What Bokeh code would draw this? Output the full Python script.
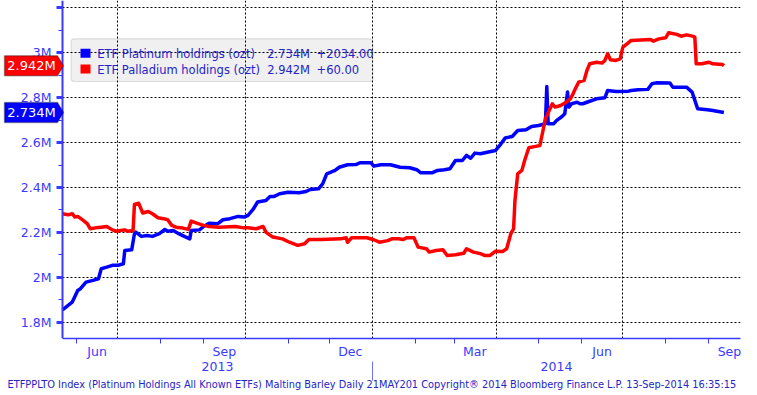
import pandas as pd
from bokeh.plotting import figure
from bokeh.models import (FixedTicker, LinearAxis, Range1d, Label, BoxAnnotation,
                          PolyAnnotation, Title, ColumnDataSource)
from bokeh.embed import file_html
from bokeh.resources import INLINE

# ---------------- data (values in millions of ozt) ----------------
plat_dates = [
    "2013-05-22", "2013-05-29", "2013-06-02", "2013-06-04", "2013-06-08", "2013-06-13", "2013-06-17", "2013-06-19", "2013-06-23", "2013-06-27",
    "2013-07-01", "2013-07-05", "2013-07-06", "2013-07-11", "2013-07-13", "2013-07-14", "2013-07-18", "2013-07-22", "2013-07-26", "2013-07-31",
    "2013-08-04", "2013-08-06", "2013-08-10", "2013-08-14", "2013-08-18", "2013-08-22", "2013-08-23", "2013-08-29", "2013-09-01", "2013-09-05",
    "2013-09-11", "2013-09-15", "2013-09-20", "2013-09-26", "2013-09-30", "2013-10-03", "2013-10-07", "2013-10-10", "2013-10-16", "2013-10-19",
    "2013-10-22", "2013-10-26", "2013-11-01", "2013-11-09", "2013-11-14", "2013-11-17", "2013-11-23", "2013-11-26", "2013-11-29", "2013-12-02",
    "2013-12-05", "2013-12-08", "2013-12-14", "2013-12-20", "2013-12-23", "2013-12-31", "2014-01-02", "2014-01-07", "2014-01-14", "2014-01-21",
    "2014-01-28", "2014-02-02", "2014-02-05", "2014-02-13", "2014-02-17", "2014-02-22", "2014-02-26", "2014-03-02", "2014-03-07", "2014-03-10",
    "2014-03-13", "2014-03-16", "2014-03-20", "2014-03-25", "2014-03-31", "2014-04-03", "2014-04-07", "2014-04-12", "2014-04-16", "2014-04-22",
    "2014-04-26", "2014-05-01", "2014-05-06", "2014-05-07", "2014-05-08", "2014-05-12", "2014-05-14", "2014-05-18", "2014-05-20", "2014-05-22",
    "2014-05-23", "2014-05-25", "2014-05-29", "2014-05-31", "2014-06-02", "2014-06-07", "2014-06-12", "2014-06-18", "2014-06-20", "2014-06-26",
    "2014-07-05", "2014-07-07", "2014-07-12", "2014-07-19", "2014-07-22", "2014-07-25", "2014-08-04", "2014-08-06", "2014-08-16", "2014-08-20",
    "2014-08-24", "2014-08-31", "2014-09-04", "2014-09-12",
]
plat_vals = [
    1.855, 1.889, 1.941, 1.949, 1.978, 1.986, 1.993, 2.038, 2.045, 2.053,
    2.053, 2.060, 2.119, 2.122, 2.194, 2.201, 2.182, 2.186, 2.182, 2.194,
    2.213, 2.205, 2.208, 2.194, 2.182, 2.171, 2.208, 2.211, 2.226, 2.241,
    2.238, 2.256, 2.261, 2.271, 2.268, 2.275, 2.305, 2.335, 2.342, 2.360,
    2.360, 2.372, 2.379, 2.376, 2.382, 2.391, 2.394, 2.416, 2.461, 2.468,
    2.476, 2.490, 2.501, 2.502, 2.510, 2.510, 2.495, 2.501, 2.501, 2.490,
    2.488, 2.479, 2.465, 2.465, 2.476, 2.479, 2.483, 2.520, 2.520, 2.543,
    2.530, 2.553, 2.550, 2.557, 2.565, 2.587, 2.621, 2.627, 2.654, 2.657,
    2.672, 2.676, 2.684, 2.850, 2.684, 2.684, 2.698, 2.716, 2.728, 2.825,
    2.758, 2.773, 2.780, 2.773, 2.773, 2.784, 2.795, 2.800, 2.832, 2.828,
    2.829, 2.832, 2.835, 2.837, 2.862, 2.866, 2.865, 2.847, 2.847, 2.825,
    2.751, 2.746, 2.743, 2.734,
]
pall_dates = [
    "2013-05-22", "2013-05-26", "2013-05-29", "2013-05-31", "2013-06-02", "2013-06-06", "2013-06-09", "2013-06-11", "2013-06-15", "2013-06-19",
    "2013-06-23", "2013-06-27", "2013-06-30", "2013-07-03", "2013-07-06", "2013-07-08", "2013-07-12", "2013-07-13", "2013-07-16", "2013-07-19",
    "2013-07-23", "2013-07-26", "2013-07-30", "2013-08-03", "2013-08-06", "2013-08-09", "2013-08-12", "2013-08-17", "2013-08-21", "2013-08-23",
    "2013-08-27", "2013-09-01", "2013-09-05", "2013-09-12", "2013-09-24", "2013-09-30", "2013-10-03", "2013-10-09", "2013-10-14", "2013-10-16",
    "2013-10-21", "2013-10-28", "2013-11-02", "2013-11-08", "2013-11-13", "2013-11-16", "2013-11-25", "2013-12-09", "2013-12-13", "2013-12-14",
    "2013-12-17", "2013-12-28", "2014-01-02", "2014-01-06", "2014-01-12", "2014-01-15", "2014-01-20", "2014-01-23", "2014-01-26", "2014-01-31",
    "2014-02-03", "2014-02-09", "2014-02-11", "2014-02-16", "2014-02-21", "2014-02-24", "2014-03-02", "2014-03-08", "2014-03-10", "2014-03-15",
    "2014-03-20", "2014-03-23", "2014-03-27", "2014-03-31", "2014-04-05", "2014-04-08", "2014-04-11", "2014-04-13", "2014-04-14", "2014-04-16",
    "2014-04-19", "2014-04-21", "2014-04-24", "2014-04-29", "2014-05-02", "2014-05-04", "2014-05-06", "2014-05-11", "2014-05-13", "2014-05-17",
    "2014-05-21", "2014-05-24", "2014-05-26", "2014-05-27", "2014-05-30", "2014-06-03", "2014-06-05", "2014-06-07", "2014-06-12", "2014-06-16",
    "2014-06-18", "2014-06-20", "2014-06-22", "2014-06-26", "2014-06-29", "2014-07-01", "2014-07-04", "2014-07-07", "2014-07-21", "2014-07-23",
    "2014-07-27", "2014-08-01", "2014-08-03", "2014-08-09", "2014-08-12", "2014-08-16", "2014-08-21", "2014-08-22", "2014-08-23", "2014-08-27",
    "2014-09-01", "2014-09-04", "2014-09-11", "2014-09-12",
]
pall_vals = [
    2.283, 2.278, 2.283, 2.268, 2.271, 2.253, 2.238, 2.216, 2.220, 2.223,
    2.226, 2.211, 2.205, 2.208, 2.211, 2.205, 2.208, 2.324, 2.330, 2.286,
    2.293, 2.283, 2.265, 2.261, 2.256, 2.231, 2.223, 2.219, 2.213, 2.250,
    2.241, 2.231, 2.226, 2.223, 2.226, 2.220, 2.220, 2.216, 2.226, 2.201,
    2.179, 2.171, 2.156, 2.142, 2.149, 2.168, 2.168, 2.171, 2.176, 2.156,
    2.176, 2.176, 2.167, 2.156, 2.163, 2.171, 2.171, 2.168, 2.176, 2.176,
    2.134, 2.127, 2.112, 2.119, 2.122, 2.097, 2.100, 2.107, 2.127, 2.112,
    2.105, 2.097, 2.097, 2.116, 2.115, 2.127, 2.194, 2.216, 2.342, 2.461,
    2.476, 2.520, 2.577, 2.583, 2.587, 2.646, 2.706, 2.773, 2.758, 2.765,
    2.780, 2.795, 2.817, 2.832, 2.869, 2.877, 2.921, 2.951, 2.958, 2.954,
    2.966, 2.996, 2.969, 2.966, 2.973, 3.025, 3.040, 3.055, 3.059, 3.052,
    3.062, 3.067, 3.089, 3.082, 3.074, 3.080, 3.073, 3.069, 2.951, 2.951,
    2.958, 2.951, 2.948, 2.942,
]

series_names = ["ETF Platinum holdings (ozt)", "ETF Palladium holdings (ozt)"]
series_changes = ["+2034.00", "+60.00"]
series_colors = ["#0000ff", "#ff0000"]

y_ticks = [1.8, 2.0, 2.2, 2.4, 2.6, 2.8, 3.0, 3.2]
y_minor = [1.9, 2.1, 2.3, 2.5, 2.7, 2.9, 3.1]
month_label_dates = ["2013-06-16", "2013-09-16", "2013-12-16", "2014-03-16", "2014-06-16", "2014-09-16"]
month_labels = ["Jun", "Sep", "Dec", "Mar", "Jun", "Sep"]
month_starts = ["2013-06-01", "2013-08-01", "2013-09-01", "2013-11-01", "2013-12-01", "2014-02-01",
                "2014-03-01", "2014-05-01", "2014-06-01", "2014-08-01", "2014-09-01"]
quarter_starts = ["2013-07-01", "2013-10-01", "2014-01-01", "2014-04-01", "2014-07-01"]
year_labels = ["2013", "2014"]
year_break = "2014-01-01"
footer = ("ETFPPLTO Index (Platinum Holdings All Known ETFs) Malting Barley  Daily 21MAY201 "
          "Copyright\u00ae 2014 Bloomberg Finance L.P. 13-Sep-2014 16:35:15")

# ---------------- layout ----------------
def ms(s):
    return pd.Timestamp(s).value / 1e6

W, H = 757, 395
MR, MB = 17, 57
FW, FH = W - MR, H - MB          # frame starts at the canvas left/top edge
AXIS_PX = 62                      # where the value axis sits inside the frame
x_axis_start, x_end = ms("2013-05-22"), ms("2014-09-24")
x_start = x_axis_start - AXIS_PX / (FW - AXIS_PX) * (x_end - x_axis_start)
y_top = 3.233
y_bot = 1.727
FONT = "DejaVu Sans"
AXIS_BLUE = "#3a3aff"
TEXT_BLUE = "#2424c8"

def ix(px):  # canvas pixel -> data x
    return x_start + px / FW * (x_end - x_start)

def iy(py):  # canvas pixel -> data y
    return y_top - py / FH * (y_top - y_bot)

dy_px = (y_top - y_bot) / FH

p = figure(width=W, height=H, x_axis_type="datetime", output_backend="svg",
           toolbar_location=None, title=None,
           x_range=Range1d(x_start, x_end), y_range=Range1d(y_bot, y_top),
           min_border_left=0, min_border_right=MR, min_border_top=0, min_border_bottom=MB,
           background_fill_color="white", border_fill_color="white")
p.outline_line_color = None

# grids
p.ygrid.ticker = FixedTicker(ticks=y_ticks)
p.xgrid.ticker = FixedTicker(ticks=[ms(d) for d in quarter_starts])
for g in (p.xgrid[0], p.ygrid[0]):
    g.grid_line_color = "black"
    g.grid_line_dash = "2 2"
    g.grid_line_width = 1
p.ygrid[0].cross_bounds = (x_axis_start, x_end)

# legend box (under grid, like the reference)
p.add_layout(BoxAnnotation(left=ix(70.7), right=ix(372.3), top=iy(38.3), bottom=iy(81),
                           fill_color="#f0f0f0", fill_alpha=1, line_color="#9a9a9a",
                           line_width=1.2, border_radius=3, level="image"))

# series
src_p = ColumnDataSource(dict(x=pd.to_datetime(plat_dates), y=plat_vals))
src_d = ColumnDataSource(dict(x=pd.to_datetime(pall_dates), y=pall_vals))
p.line("x", "y", source=src_p, line_color=series_colors[0], line_width=3.5, line_join="round")
p.line("x", "y", source=src_d, line_color=series_colors[1], line_width=3.5, line_join="round")

# value axis, fixed inside the frame
ya = p.yaxis[0]
ya.fixed_location = x_axis_start
ya.ticker = FixedTicker(ticks=y_ticks, minor_ticks=y_minor)
ya.major_label_overrides = {t: ("" if t == y_ticks[-1] else f"{t:g}M") for t in y_ticks}
ya.axis_line_color = AXIS_BLUE
ya.axis_line_width = 2
ya.major_tick_line_color = AXIS_BLUE
ya.major_tick_line_width = 3
ya.major_tick_out = 6
ya.major_tick_in = 0
ya.minor_tick_line_color = AXIS_BLUE
ya.minor_tick_out = 4
ya.minor_tick_in = 0
ya.major_label_standoff = 5
ya.major_label_text_color = AXIS_BLUE
ya.major_label_text_font = FONT
ya.major_label_text_font_size = "12.5px"

# month axis
xa = p.xaxis[0]
xa.bounds = (x_axis_start, x_end)
xa.ticker = FixedTicker(ticks=[ms(d) for d in month_label_dates],
                        minor_ticks=[ms(d) for d in month_starts])
xa.major_label_overrides = {ms(d): lab for d, lab in zip(month_label_dates, month_labels)}
xa.axis_line_color = AXIS_BLUE
xa.axis_line_width = 1.5
xa.major_tick_line_alpha = 0
xa.major_tick_out = 5
xa.major_tick_in = 0
xa.minor_tick_line_color = AXIS_BLUE
xa.minor_tick_out = 5
xa.minor_tick_in = 0
xa.major_label_standoff = 0
xa.major_label_text_color = AXIS_BLUE
xa.major_label_text_font = FONT
xa.major_label_text_font_size = "12.5px"

# year axis
yb = ms(year_break)
year_pos = [(x_axis_start + yb) / 2, (yb + x_end) / 2]
ax2 = LinearAxis(ticker=FixedTicker(ticks=year_pos, minor_ticks=[yb]),
                 major_label_overrides={v: t for v, t in zip(year_pos, year_labels)})
ax2.axis_line_alpha = 0
ax2.major_tick_line_alpha = 0
ax2.major_tick_out = 0
ax2.major_tick_in = 0
ax2.minor_tick_line_color = "#7070ff"
ax2.minor_tick_out = 19
ax2.minor_tick_in = 0
ax2.major_label_standoff = -19
ax2.major_label_text_color = AXIS_BLUE
ax2.major_label_text_font = FONT
ax2.major_label_text_font_size = "12.5px"
p.add_layout(ax2, "below")

# footer
p.add_layout(Title(text=footer, align="left", offset=7, standoff=6,
                   text_font=FONT, text_font_size="9.8px", text_font_style="normal",
                   text_color=TEXT_BLUE), "below")

# legend contents
rows_y = [53.3, 69.0]
lasts = [plat_vals[-1], pall_vals[-1]]
for k in range(2):
    cy = rows_y[k]
    p.add_layout(BoxAnnotation(left=ix(80), right=ix(90), top=iy(cy - 5), bottom=iy(cy + 4),
                               fill_color=series_colors[k], fill_alpha=1, line_color=None))
    for px_, txt in ((96.7, series_names[k]), (266.7, f"{lasts[k]:.3f}M"), (316, series_changes[k])):
        p.add_layout(Label(x=ix(px_), y=iy(cy), text=txt, text_align="left", text_baseline="middle",
                           text_font=FONT, text_font_size="11.5px", text_color=TEXT_BLUE))

# last-value tags on the left
h = 10 * dy_px
for k in range(2):
    v = lasts[k]
    p.add_layout(PolyAnnotation(xs=[ix(4), ix(57), ix(63), ix(57), ix(4)],
                                ys=[v + h, v + h, v, v - h, v - h],
                                fill_color=series_colors[k], fill_alpha=1,
                                line_color="black", line_width=1.5))
    p.add_layout(Label(x=ix(31), y=v, text=f"{v:.3f}M", text_align="center", text_baseline="middle",
                       text_font=FONT, text_font_size="13px", text_color="white"))

open("out.html", "w").write(file_html(p, INLINE))
